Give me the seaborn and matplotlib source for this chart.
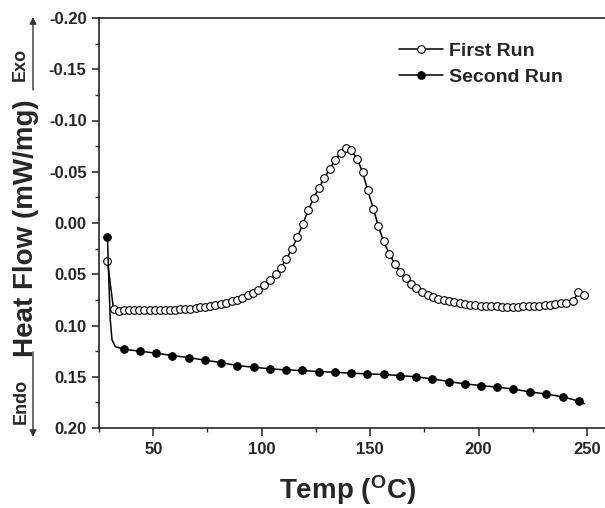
import numpy as np
import pandas as pd
import matplotlib
matplotlib.use('Agg')
import matplotlib.pyplot as plt
import seaborn as sns
from matplotlib.ticker import MultipleLocator, FormatStrFormatter

# ------------- data -------------
first_temp = [28.9, 31.7, 34.0, 36.3, 38.8, 41.1, 43.5, 45.8, 48.3, 50.6,
              52.9, 55.2, 57.7, 60.0, 62.5, 64.8, 67.1, 69.5, 71.7, 74.0,
              76.4, 78.7, 81.2, 83.7, 86.1, 88.6, 90.9, 93.5, 96.0, 98.4,
              101.2, 104.0, 106.4, 108.9, 111.3, 114.0, 116.4, 118.9, 121.5, 123.9,
              126.4, 128.9, 131.3, 134.0, 136.4, 139.0, 141.3, 144.0, 146.5, 148.8,
              151.5, 153.8, 156.2, 158.9, 161.3, 163.9, 166.4, 168.9, 171.3, 173.8,
              176.5, 179.0, 181.5, 183.9, 186.4, 188.8, 191.3, 193.6, 196.1, 198.5,
              201.0, 203.5, 205.9, 208.4, 210.8, 213.3, 215.7, 218.2, 220.7, 223.1,
              225.6, 228.0, 230.5, 233.0, 235.4, 237.9, 240.4, 243.6, 246.0, 248.8]
first_flow = [0.0373, 0.0841, 0.0854, 0.0851, 0.0848, 0.0848, 0.0848, 0.0848, 0.0848, 0.0848,
              0.0847, 0.0846, 0.0845, 0.0844, 0.0841, 0.0838, 0.0835, 0.0828, 0.0822, 0.0816,
              0.0809, 0.0799, 0.0788, 0.0777, 0.0762, 0.0747, 0.0731, 0.0705, 0.0679, 0.0650,
              0.0608, 0.0556, 0.0500, 0.0435, 0.0354, 0.0253, 0.0140, 0.0013, -0.0127, -0.0240,
              -0.0344, -0.0435, -0.0529, -0.0614, -0.0685, -0.0734, -0.0711, -0.0627, -0.0497, -0.0325,
              -0.0139, 0.0032, 0.0178, 0.0302, 0.0397, 0.0475, 0.0539, 0.0592, 0.0637, 0.0673,
              0.0702, 0.0723, 0.0741, 0.0754, 0.0764, 0.0773, 0.0783, 0.0790, 0.0796, 0.0802,
              0.0806, 0.0809, 0.0812, 0.0812, 0.0816, 0.0816, 0.0816, 0.0816, 0.0812, 0.0812,
              0.0809, 0.0806, 0.0802, 0.0796, 0.0790, 0.0783, 0.0777, 0.0761, 0.0676, 0.0702]

second_temp = [28.9, 29.6, 30.2, 31.0, 32.5, 36.3, 43.9, 51.4, 58.8, 66.3,
               73.8, 81.4, 88.7, 96.3, 104.0, 111.2, 118.6, 126.3, 133.6, 141.2,
               148.6, 156.3, 163.6, 171.2, 178.5, 186.2, 193.6, 201.1, 208.6, 216.1,
               223.5, 231.2, 238.8, 246.3, 248.8]
second_flow = [0.0134, 0.0600, 0.0945, 0.1140, 0.1206, 0.1231, 0.1251, 0.1270, 0.1293, 0.1313,
               0.1338, 0.1362, 0.1391, 0.1407, 0.1423, 0.1433, 0.1439, 0.1449, 0.1456, 0.1465,
               0.1472, 0.1478, 0.1488, 0.1501, 0.1520, 0.1547, 0.1569, 0.1586, 0.1601, 0.1621,
               0.1647, 0.1669, 0.1696, 0.1738, 0.1764]
# points of the second run that carry a marker (the rest only shape the line)
second_marked = [0] + list(range(5, 34))

run_labels = ['First Run', 'Second Run']

# ------------- theme -------------
sns.set_style('ticks')
plt.rcParams.update({
    'font.family': ['Liberation Sans', 'DejaVu Sans'],
    'font.weight': 'bold',
    'mathtext.fontset': 'custom',
    'mathtext.rm': 'Liberation Sans:bold',
    'mathtext.bf': 'Liberation Sans:bold',
    'mathtext.default': 'bf',
    'axes.linewidth': 1.2,
    'xtick.direction': 'out', 'ytick.direction': 'out',
    'xtick.major.size': 6, 'ytick.major.size': 5,
    'xtick.minor.size': 3, 'ytick.minor.size': 3,
    'xtick.major.width': 1.1, 'ytick.major.width': 1.1,
    'xtick.minor.width': 1.0, 'ytick.minor.width': 1.0,
})

fig = plt.figure(figsize=(6.05, 5.08), dpi=100)
ax = fig.add_axes([99 / 605, 80 / 508, 506 / 605, 410 / 508])

df1 = pd.DataFrame({'temp': first_temp, 'flow': first_flow})
df2 = pd.DataFrame({'temp': second_temp, 'flow': second_flow})

sns.lineplot(data=df1, x='temp', y='flow', ax=ax, color='black', lw=1.1,
             marker='o', markersize=5.5, markerfacecolor='white',
             markeredgecolor='black', markeredgewidth=0.8,
             estimator=None, label=run_labels[0])
sns.lineplot(data=df2, x='temp', y='flow', ax=ax, color='black', lw=1.1,
             marker='o', markersize=5.5, markerfacecolor='black',
             markeredgecolor='black', markevery=second_marked,
             estimator=None, label=run_labels[1])

ax.set_xlim(25, 258.3)
ax.set_ylim(0.20, -0.20)
ax.xaxis.set_major_locator(MultipleLocator(50))
ax.xaxis.set_minor_locator(MultipleLocator(25))
ax.yaxis.set_major_locator(MultipleLocator(0.05))
ax.yaxis.set_minor_locator(MultipleLocator(0.025))
ax.yaxis.set_major_formatter(FormatStrFormatter('%.2f'))
ax.tick_params(axis='both', which='major', labelsize=12, pad=4)
ax.spines['right'].set_visible(False)
ax.set_xlabel('')
ax.set_ylabel('')

leg = ax.legend(loc='upper left', bbox_to_anchor=(0.592, 0.94), frameon=False,
                fontsize=14, handlelength=2.3, handletextpad=0.3,
                labelspacing=0.4, borderpad=0, borderaxespad=0, numpoints=1)

# ------------- axis titles and exo / endo arrows -------------
fig.text(347 / 605, 9 / 508, r'Temp ($^{O}$C)', fontsize=20, fontweight='bold',
         ha='center', va='baseline')
fig.text(33 / 605, (508 - 228) / 508, 'Heat Flow (mW/mg)', fontsize=20,
         fontweight='bold', rotation=90, rotation_mode='anchor',
         ha='center', va='baseline')
fig.text(25 / 605, (508 - 64) / 508, 'Exo', fontsize=13, fontweight='bold',
         rotation=90, rotation_mode='anchor', ha='center', va='baseline')
fig.text(26 / 605, (508 - 401) / 508, 'Endo', fontsize=13, fontweight='bold',
         rotation=90, rotation_mode='anchor', ha='center', va='baseline')

arrow = dict(arrowstyle='-|>', lw=1.0, color='#333333', mutation_scale=10,
             shrinkA=0, shrinkB=0)
fig.add_artist(matplotlib.patches.FancyArrowPatch(
    (33 / 605, (508 - 90) / 508), (33 / 605, (508 - 17) / 508),
    transform=fig.transFigure, **arrow))
fig.add_artist(matplotlib.patches.FancyArrowPatch(
    (33 / 605, (508 - 352) / 508), (33 / 605, (508 - 437) / 508),
    transform=fig.transFigure, **arrow))

fig.savefig('out.png', dpi=100)
